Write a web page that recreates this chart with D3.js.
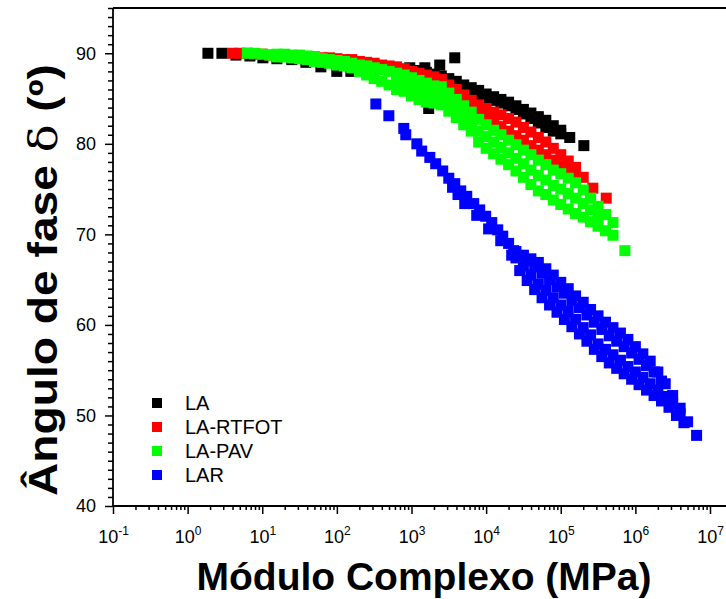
<!DOCTYPE html>
<html>
<head>
<meta charset="utf-8">
<script src="https://cdn.jsdelivr.net/npm/d3@7"></script>
<style>
  body { margin: 0; background: #fff; }
  text { font-family: Arial, "Liberation Sans", sans-serif; }
</style>
</head>
<body>
<div id="chart"></div>
<script>
// series: [complex modulus (MPa), phase angle (deg)]
var dataLA = [
  [1.87, 90.0], [2.88, 90.0], [4.44, 89.8], [6.83, 89.7], [10.2, 89.5], [15.7, 89.4], [24.9, 89.3],
  [38.4, 89.0], [61.0, 88.5], [99.8, 88.0], [154, 88.0], [244, 88.1], [376, 88.3], [597, 88.4],
  [948, 88.4], [1510, 88.4], [2390, 88.7], [3800, 89.5], [1700, 83.9],
  [1260, 88.1], [1580, 87.9], [2000, 87.7], [2510, 87.5], [3160, 87.2], [3980, 86.9], [5010, 86.5],
  [6310, 86.2], [7940, 85.9], [10000, 85.5], [12600, 85.2], [15800, 84.9], [20000, 84.6],
  [25100, 84.2], [31600, 83.8], [39800, 83.4], [50100, 83.0], [63100, 82.6], [79400, 82.0],
  [1.00e5, 81.5],
  [1260, 87.7], [1580, 87.5], [2000, 87.3], [2510, 87.0], [3160, 86.7], [3980, 86.4], [5010, 86.0],
  [6310, 85.7], [7940, 85.4], [10000, 85.0], [12600, 84.8], [15800, 84.5], [20000, 84.2],
  [25100, 83.8], [31600, 83.3], [39800, 82.8], [50100, 82.3], [63100, 81.8], [79400, 81.4],
  [1.00e5, 81.1], [1.32e5, 80.7], [2.04e5, 79.8]
];

var dataLARTFOT = [
  [3.98, 90.0], [5.01, 90.0], [6.31, 90.0], [7.94, 89.9], [10.0, 89.9], [12.6, 89.8], [15.8, 89.8],
  [20.0, 89.8], [25.1, 89.7], [31.6, 89.7], [39.8, 89.6], [50.1, 89.6], [63.1, 89.5], [79.4, 89.5],
  [100, 89.4], [126, 89.3], [158, 89.3], [200, 89.1], [251, 89.0], [316, 88.9], [398, 88.7],
  [501, 88.6], [631, 88.5], [794, 88.3], [1000, 88.0], [1260, 87.8], [1580, 87.6], [2000, 87.4],
  [1580, 87.1], [2000, 86.7],
  [2510, 87.1], [3160, 86.5], [3980, 86.0], [5010, 85.4], [6310, 84.8], [7940, 84.3],
  [10000, 83.9], [12600, 83.5], [15800, 83.2], [20000, 82.8], [25100, 82.4], [31600, 81.8],
  [39800, 81.3], [50100, 80.7], [63100, 80.2], [79400, 79.5], [1.00e5, 78.8], [1.26e5, 78.1],
  [1.58e5, 77.4],
  [2510, 86.3], [3160, 85.7], [3980, 85.2], [5010, 84.6], [6310, 84.0], [7940, 83.5],
  [10000, 82.9], [12600, 82.4], [15800, 81.9], [20000, 81.4], [25100, 80.9], [31600, 80.4],
  [39800, 79.8], [50100, 79.3], [63100, 78.8], [79400, 78.2], [1.00e5, 77.6], [1.26e5, 77.1],
  [1.58e5, 76.5],
  [2.00e5, 76.3], [2.69e5, 75.1], [4.07e5, 74.0]
];

var dataLAPAV = [
  [6.31, 90.0], [7.94, 90.0], [10.0, 89.9], [12.6, 89.8],
  [15.8, 89.9], [20.0, 89.9], [25.1, 89.8], [31.6, 89.8], [39.8, 89.7], [50.1, 89.6], [63.1, 89.4],
  [79.4, 89.3], [100, 89.2], [126, 89.1], [158, 88.9], [200, 88.7], [251, 88.6], [316, 88.4],
  [398, 88.2], [501, 88.0], [631, 87.8], [794, 87.6], [1000, 87.3], [1260, 87.0], [1580, 86.7],
  [2000, 86.4], [2510, 86.3], [3160, 85.6], [3980, 84.9], [5010, 84.2], [6310, 83.5], [7940, 82.7],
  [10000, 82.1], [12600, 81.5], [15800, 81.0], [20000, 80.4], [25100, 79.9], [31600, 79.3],
  [39800, 78.8], [50100, 78.2], [63100, 77.7], [79400, 77.1], [1.00e5, 76.7], [1.26e5, 76.2],
  [1.58e5, 75.7], [2.00e5, 74.9], [2.51e5, 74.0], [3.16e5, 73.1], [3.98e5, 72.2], [5.01e5, 71.3],
  [15.8, 89.6], [20.0, 89.6], [25.1, 89.5], [31.6, 89.4], [39.8, 89.3], [50.1, 89.1], [63.1, 89.0],
  [79.4, 88.9], [100, 88.7], [126, 88.6], [158, 88.4], [200, 88.0], [251, 87.6], [316, 87.2],
  [398, 86.9], [501, 86.5], [631, 86.0], [794, 85.8], [1000, 85.3], [1260, 84.9], [1580, 84.6],
  [2000, 84.5], [2510, 84.3], [3160, 83.6], [3980, 82.9], [5010, 82.1], [6310, 81.4], [7940, 80.2],
  [10000, 79.5], [12600, 78.9], [15800, 78.3], [20000, 77.7], [25100, 77.0], [31600, 76.3],
  [39800, 75.5], [50100, 74.8], [63100, 74.4], [79400, 73.8], [1.00e5, 73.3], [1.26e5, 72.8],
  [1.58e5, 72.3], [2.00e5, 71.9], [2.51e5, 71.4], [3.16e5, 70.9], [3.98e5, 70.4], [5.01e5, 69.9],
  [631, 86.9], [794, 86.7], [1000, 86.3], [1260, 86.0], [1580, 85.6], [2000, 85.4], [2510, 85.3],
  [3160, 84.6], [3980, 83.9], [5010, 83.1], [6310, 82.4], [7940, 81.4], [10000, 80.8],
  [12600, 80.2], [15800, 79.6], [20000, 79.0], [25100, 78.4], [31600, 77.8], [39800, 77.1],
  [50100, 76.5], [63100, 76.0], [79400, 75.4], [1.00e5, 75.0], [1.26e5, 74.5], [1.58e5, 74.0],
  [2.00e5, 73.4], [2.51e5, 72.7], [3.16e5, 72.0],
  [7.24e5, 68.2]
];

var dataLAR = [
  [333, 84.4], [497, 83.1], [788, 81.7], [838, 81.0], [1180, 80.0], [1370, 79.2], [1760, 78.5],
  [2110, 77.8], [2620, 77.0], [3160, 76.2], [3800, 75.6], [4570, 74.8], [5500, 74.2], [6820, 73.4],
  [8200, 72.7], [9860, 72.0], [11900, 71.3], [14300, 70.5], [16700, 69.8], [20000, 69.0],
  [23400, 68.2],
  [3550, 75.2], [4200, 74.4], [5170, 73.4], [7480, 72.1], [10800, 70.6], [15700, 69.3],
  [22000, 67.7],
  [2.51e4, 68.1], [3.16e4, 67.7], [3.98e4, 67.3], [5.01e4, 66.9], [6.31e4, 66.2], [7.94e4, 65.5],
  [1.00e5, 64.7], [1.26e5, 64.0], [1.58e5, 63.2], [2.00e5, 62.5], [2.51e5, 61.7], [3.16e5, 61.0],
  [3.98e5, 60.3], [5.01e5, 59.7], [6.31e5, 59.1], [7.94e5, 58.4], [1.00e6, 57.6], [1.26e6, 56.8],
  [1.58e6, 56.0], [2.00e6, 54.8], [2.51e6, 53.5], [3.16e6, 52.2], [3.98e6, 50.8],
  [3.55e4, 67.1], [4.47e4, 66.4], [5.62e4, 65.7], [7.08e4, 65.0], [8.91e4, 64.2], [1.12e5, 63.5],
  [1.41e5, 62.7], [1.78e5, 61.9], [2.24e5, 61.1], [2.82e5, 60.3], [3.55e5, 59.5], [4.47e5, 58.8],
  [5.62e5, 58.2], [7.08e5, 57.6], [8.91e5, 56.9], [1.12e6, 56.2], [1.41e6, 55.5], [1.78e6, 54.8],
  [2.24e6, 53.8],
  [2.51e4, 67.4], [3.16e4, 66.5], [3.98e4, 65.5], [5.01e4, 64.5], [6.31e4, 63.8], [7.94e4, 63.0],
  [1.00e5, 62.2], [1.26e5, 61.5], [1.58e5, 60.6], [2.00e5, 59.7], [2.51e5, 58.9], [3.16e5, 57.9],
  [3.98e5, 57.3], [5.01e5, 56.7], [6.31e5, 56.1], [7.94e5, 55.4], [1.00e6, 54.8], [1.26e6, 54.2],
  [1.58e6, 53.5], [2.00e6, 52.8], [2.51e6, 52.1], [3.16e6, 51.3], [3.98e6, 50.2], [5.01e6, 49.3],
  [2.82e4, 66.0], [3.55e4, 64.9], [4.47e4, 63.9], [5.62e4, 63.0], [7.08e4, 62.2], [8.91e4, 61.4],
  [1.12e5, 60.6], [1.41e5, 59.8], [1.78e5, 59.0], [2.24e5, 58.2], [2.82e5, 57.3], [3.55e5, 56.5],
  [4.47e5, 55.8], [5.62e5, 55.2], [7.08e5, 54.6], [8.91e5, 54.0], [1.12e6, 53.4], [1.41e6, 52.8],
  [1.78e6, 52.2], [2.24e6, 51.6], [2.82e6, 50.9], [3.55e6, 50.0], [4.47e6, 49.2],
  [6.61e6, 47.8]
];

var seriesNames = ["LA", "LA-RTFOT", "LA-PAV", "LAR"];
var seriesColors = ["#000000", "#ff0000", "#00ff00", "#0000ff"];
var seriesData = [dataLA, dataLARTFOT, dataLAPAV, dataLAR];

var xMajorTicks = [1e-1, 1e0, 1e1, 1e2, 1e3, 1e4, 1e5, 1e6, 1e7];
var xExponents = ["-1", "0", "1", "2", "3", "4", "5", "6", "7"];
var yMajorTicks = [40, 50, 60, 70, 80, 90];

var xTitle = "Módulo Complexo (MPa)";

// dimensions and margins (plot runs past the right edge of the page)
var margin = {top: 8, right: 0, bottom: 93, left: 113},
    fullWidth = 726,
    fullHeight = 599,
    height = fullHeight - margin.top - margin.bottom;

var svg = d3.select("#chart")
  .append("svg")
    .attr("width", fullWidth)
    .attr("height", fullHeight);

var g = svg.append("g")
    .attr("transform", "translate(" + margin.left + "," + margin.top + ")");

var x = d3.scaleLog()
  .domain([1e-1, 1e7])
  .range([0, 597]);

var y = d3.scaleLinear()
  .domain([40, 95])
  .range([height, 0]);

// minor ticks: 2..9 in each decade, every 1 degree on y
var xMinorTicks = [];
for (var k = -1; k < 7; k++) {
  for (var m = 2; m <= 9; m++) xMinorTicks.push(m * Math.pow(10, k));
}
xMinorTicks.push(2e7);
var yMinorTicks = d3.range(40, 96, 1).filter(function(v) { return v % 10 !== 0; });

// X axis
g.append("g")
  .attr("transform", "translate(0," + height + ")")
  .call(d3.axisBottom(x).tickValues(xMinorTicks).tickSize(4).tickFormat(""));
var xAxis = g.append("g")
  .attr("transform", "translate(0," + height + ")")
  .call(d3.axisBottom(x).tickValues(xMajorTicks).tickSize(8));

xAxis.selectAll("text")
  .attr("y", 37)
  .attr("dy", null)
  .style("font-size", "18px")
  .text(null)
  .each(function(d, i) {
    var t = d3.select(this);
    t.append("tspan").text("10");
    t.append("tspan").attr("dy", -8).style("font-size", "12px").text(xExponents[i]);
  });

// Y axis
g.append("g")
  .call(d3.axisLeft(y).tickValues(yMinorTicks).tickSize(5).tickFormat(""));
var yAxis = g.append("g")
  .call(d3.axisLeft(y).tickValues(yMajorTicks).tickSize(8).tickPadding(9));

yAxis.selectAll("text").style("font-size", "18px");

g.selectAll(".domain").remove();
g.selectAll(".tick line").attr("stroke-width", 1.5);

// frame lines
g.append("line").attr("x1", 0).attr("x2", 0).attr("y1", 0).attr("y2", height)
  .attr("stroke", "#000").attr("stroke-width", 1.8);
g.append("line").attr("x1", 0).attr("x2", fullWidth).attr("y1", height).attr("y2", height)
  .attr("stroke", "#000").attr("stroke-width", 1.8);
g.append("line").attr("x1", 0).attr("x2", fullWidth).attr("y1", 0).attr("y2", 0)
  .attr("stroke", "#000").attr("stroke-width", 2);

// points
var size = 11;
seriesData.forEach(function(data, i) {
  g.append("g")
    .selectAll("rect")
    .data(data)
    .enter()
    .append("rect")
      .attr("x", function(d) { return x(d[0]) - size / 2; })
      .attr("y", function(d) { return y(d[1]) - size / 2; })
      .attr("width", size)
      .attr("height", size)
      .attr("fill", seriesColors[i]);
});

// legend
var legend = g.append("g")
  .attr("transform", "translate(44,395)");

legend.selectAll("rect")
  .data(seriesNames)
  .enter()
  .append("rect")
    .attr("x", -5)
    .attr("y", function(d, i) { return i * 24 - 5; })
    .attr("width", 10)
    .attr("height", 10)
    .attr("fill", function(d, i) { return seriesColors[i]; });

legend.selectAll("text")
  .data(seriesNames)
  .enter()
  .append("text")
    .attr("x", 28)
    .attr("y", function(d, i) { return i * 24 + 7; })
    .style("font-size", "20px")
    .text(function(d) { return d; });

// axis titles
svg.append("text")
  .attr("x", 424)
  .attr("y", 590)
  .attr("text-anchor", "middle")
  .attr("textLength", 455)
  .attr("lengthAdjust", "spacingAndGlyphs")
  .style("font-size", "38px")
  .style("font-weight", "bold")
  .text(xTitle);

var yTitle = svg.append("text")
  .attr("transform", "translate(57,280) rotate(-90)")
  .attr("text-anchor", "middle")
  .attr("textLength", 432)
  .attr("lengthAdjust", "spacingAndGlyphs")
  .style("font-size", "40px")
  .style("font-weight", "bold");
yTitle.append("tspan").text("Ângulo de fase ");
yTitle.append("tspan").style("font-weight", "normal").style("font-family", "'DejaVu Serif', serif").text("δ");
yTitle.append("tspan").text(" (º)");
</script>
</body>
</html>
